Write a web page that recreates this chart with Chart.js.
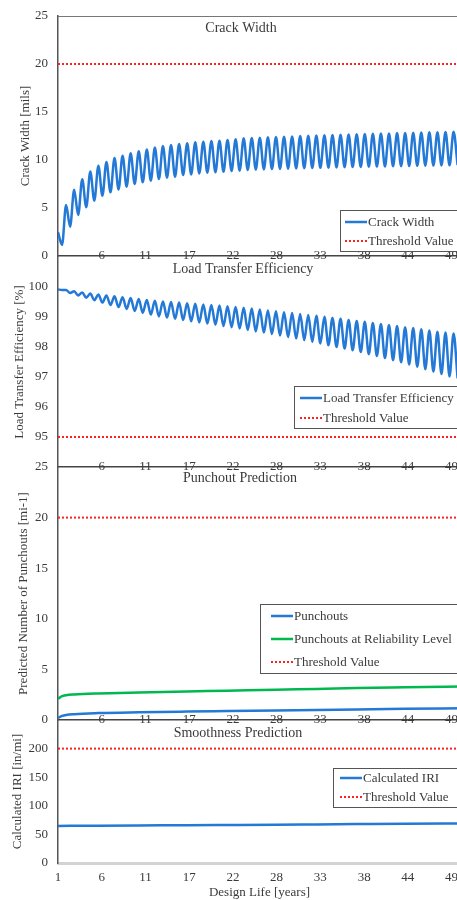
<!DOCTYPE html>
<html><head><meta charset="utf-8">
<script src="https://cdn.jsdelivr.net/npm/chart.js@4.4.1/dist/chart.umd.min.js"></script>
<style>
html,body{margin:0;padding:0;background:#fff;width:457px;height:900px;overflow:hidden;position:relative;}
canvas{position:absolute;left:0;}
</style></head><body>
<canvas id="c1" width="470" height="266" style="top:0px"></canvas>
<canvas id="c2" width="470" height="230" style="top:247px"></canvas>
<canvas id="c3" width="470" height="273" style="top:457px"></canvas>
<canvas id="c4" width="470" height="190" style="top:710px"></canvas>
<script>
// ---------------- DATA ----------------
const designStart = 1;
const designEnd = 50.92;
const tickLabels = ['1','6','11','17','22','28','33','38','44','49'];
const tickYears  = [1, 6.42, 11.83, 17.25, 22.67, 28.08, 33.5, 38.92, 44.33, 49.75];

// crack width [mils], half-year readings starting at year 1 (peak / trough alternating)
const crackWidth = [2.5,1.15, 5.3,3.05, 6.9,4.27, 8.0,5.07, 8.8,5.76, 9.4,6.28, 9.8,6.63, 10.2,6.94,
  10.45,7.22, 10.7,7.5, 10.9,7.67, 11.1,7.85, 11.3,8.02, 11.45,8.16, 11.56,8.26, 11.67,8.44,
  11.74,8.5, 11.84,8.6, 11.91,8.68, 11.98,8.72, 12.0,8.78, 12.08,8.85, 12.15,8.89, 12.26,8.96,
  12.3,9.0, 12.33,9.02, 12.36,9.05, 12.4,9.07, 12.43,9.1, 12.46,9.12, 12.5,9.14, 12.52,9.16,
  12.55,9.18, 12.58,9.2, 12.6,9.22, 12.63,9.24, 12.65,9.26, 12.68,9.28, 12.7,9.3, 12.73,9.31,
  12.75,9.33, 12.77,9.35, 12.8,9.36, 12.82,9.38, 12.84,9.39, 12.86,9.41, 12.88,9.42, 12.9,9.44,
  12.92,9.45, 12.94,9.46];
const crackLimit = 20;

// load transfer efficiency [%], half-year readings starting at year 1
const lte = [99.92,99.9, 99.9,99.8, 99.86,99.72, 99.82,99.64, 99.78,99.56, 99.75,99.48, 99.72,99.4,
  99.69,99.33, 99.66,99.27, 99.63,99.2, 99.6,99.14, 99.57,99.08, 99.54,99.02, 99.52,98.98,
  99.5,98.94, 99.48,98.9, 99.46,98.86, 99.44,98.82, 99.42,98.78, 99.4,98.74, 99.38,98.7,
  99.36,98.66, 99.33,98.62, 99.31,98.57, 99.28,98.52, 99.25,98.48, 99.22,98.43, 99.19,98.38,
  99.16,98.33, 99.13,98.28, 99.1,98.23, 99.07,98.17, 99.04,98.12, 99.01,98.06, 98.97,98.0,
  98.94,97.95, 98.9,97.89, 98.87,97.83, 98.84,97.76, 98.8,97.7, 98.77,97.63, 98.73,97.56,
  98.7,97.49, 98.66,97.42, 98.63,97.34, 98.59,97.26, 98.55,97.18, 98.51,97.1, 98.48,97.02,
  98.45,96.95];
const lteLimit = 95;

// punchouts [mi-1]
const punchYears  = [1, 1.5, 2, 3, 6, 11, 17, 22, 28, 33, 38, 44, 50.92];
const punchouts   = [0.2, 0.4, 0.5, 0.58, 0.68, 0.76, 0.83, 0.88, 0.94, 0.99, 1.04, 1.1, 1.16];
const punchRel    = [2.1, 2.35, 2.45, 2.52, 2.62, 2.72, 2.82, 2.9, 3.0, 3.07, 3.15, 3.23, 3.32];
const punchLimit = 20;

// IRI [in/mi]
const iriYears = [1, 6, 11, 17, 22, 28, 33, 38, 44, 50.92];
const iri      = [64.8, 65.3, 65.7, 66.1, 66.5, 67.0, 67.5, 68.0, 68.6, 69.2];
const iriLimit = 200;

const crackTicks = [0,5,10,15,20,25];
const lteTicks   = [94,95,96,97,98,99,100,101];
const punchTicks = [0,5,10,15,20,25];
const iriTicks   = [0,50,100,150,200,250];

// ---------------- STYLE ----------------
const FAM = "'Liberation Serif','Times New Roman',serif";
const TXT = '#3a3a3a';
const BLUE = '#2479D6';
const GREEN = '#00B84F';
const RED = '#FF2020';

const halfYearSeries = vals => vals.map((v,i) => ({x: designStart + i*0.5, y: v}));
const pairs = (xs, ys) => xs.map((x,i) => ({x, y: ys[i]}));
const limitLine = v => [{x: designStart, y: v}, {x: designEnd, y: v}];

const mainLine = (label, data, color) => ({label, data, borderColor: color, borderWidth: 2.5,
  pointRadius: 0, cubicInterpolationMode: 'monotone', fill: false});
const thresh = v => ({label: 'Threshold Value', data: limitLine(v), borderColor: RED, borderWidth: 2,
  borderDash: [2,2], pointRadius: 0, fill: false});

const decor = {
  id: 'decor',
  afterDraw(chart, args, o) {
    const ctx = chart.ctx, ca = chart.chartArea, off = o.top;
    ctx.save();
    if (o.topBorder) {
      ctx.strokeStyle = '#777'; ctx.lineWidth = 1;
      ctx.beginPath(); ctx.moveTo(ca.left, ca.top + 0.5); ctx.lineTo(ca.right, ca.top + 0.5); ctx.stroke();
    }
    ctx.fillStyle = TXT;
    ctx.font = "14px " + FAM;
    ctx.textAlign = 'center'; ctx.textBaseline = 'middle';
    ctx.fillText(o.title, o.tx, o.ty - off);
    // legend
    const L = o.legend;
    ctx.fillStyle = '#fff';
    ctx.fillRect(L.x, L.y - off, L.w, L.h);
    ctx.strokeStyle = '#555'; ctx.lineWidth = 1;
    ctx.strokeRect(L.x + 0.5, L.y - off + 0.5, L.w, L.h);
    ctx.font = "13px " + FAM; ctx.textAlign = 'left';
    chart.data.datasets.forEach((ds, i) => {
      const y = L.y - off + L.rows[i];
      ctx.strokeStyle = ds.borderColor; ctx.lineWidth = ds.borderWidth;
      ctx.setLineDash(ds.borderDash || []);
      ctx.beginPath(); ctx.moveTo(L.x + L.sx, y); ctx.lineTo(L.x + L.sx + 22, y); ctx.stroke();
      ctx.setLineDash([]);
      ctx.fillStyle = TXT;
      ctx.fillText(ds.label, L.x + L.sx + 23, y + 0.5);
    });
    ctx.restore();
  }
};

function xScale(bottom) {
  return {
    type: 'linear', min: designStart, max: designEnd,
    afterBuildTicks: s => { s.ticks = tickYears.map(v => ({value: v})); },
    afterFit: s => { s.height = bottom ? 37 : 10; s._computeLabelArea = () => undefined; },
    grid: {display: false, drawTicks: false},
    border: {display: true, color: bottom ? '#d3d3d3' : '#444', width: bottom ? 3 : 1.5},
    ticks: {autoSkip: false, maxRotation: 0, padding: bottom ? 7 : -8,
      font: {family: FAM, size: 13}, color: TXT,
      callback: (v, i) => (i === 0 && !bottom) ? '' : tickLabels[i]},
    title: bottom ? {display: true, text: 'Design Life [years]', font: {family: FAM, size: 13},
      color: TXT, padding: {top: 0, bottom: 0}} : {display: false}
  };
}
function yScale(ticks, hidden, title, tpad) {
  return {
    type: 'linear', min: ticks[0], max: ticks[ticks.length - 1],
    afterBuildTicks: s => { s.ticks = ticks.map(v => ({value: v})); },
    afterFit: s => { s.width = 58; s.paddingTop = 0; s.paddingBottom = 0; },
    grid: {display: false, drawTicks: false},
    border: {display: true, color: '#555', width: 1.5},
    ticks: {padding: 10, font: {family: FAM, size: 13}, color: TXT,
      callback: v => hidden.includes(v) ? '' : String(v)},
    title: {display: true, text: title, font: {family: FAM, size: 13}, color: TXT,
      padding: {top: tpad, bottom: 0}}
  };
}
function make(id, top, padTop, datasets, x, y, deco) {
  deco.top = top;
  return new Chart(document.getElementById(id), {
    type: 'line',
    data: {datasets},
    options: {
      responsive: false, animation: false, events: [],
      layout: {padding: {top: padTop, left: 0, right: 9, bottom: 0}},
      scales: {x, y},
      plugins: {legend: {display: false}, tooltip: {enabled: false}, decor: deco}
    },
    plugins: [decor]
  });
}

make('c1', 0, 16,
  [mainLine('Crack Width', halfYearSeries(crackWidth), BLUE), thresh(crackLimit)],
  xScale(false), yScale(crackTicks, [], 'Crack Width [mils]', 18),
  {title: 'Crack Width', tx: 241, ty: 28, topBorder: true,
   legend: {x: 340, y: 210, w: 140, h: 41, sx: 5, rows: [12, 31]}});

make('c2', 247, 10,
  [mainLine('Load Transfer Efficiency', halfYearSeries(lte), BLUE), thresh(lteLimit)],
  xScale(false), yScale(lteTicks, [94, 101], 'Load Transfer Efficiency [%]', 12),
  {title: 'Load Transfer Efficiency', tx: 243, ty: 269,
   legend: {x: 294, y: 386, w: 180, h: 42, sx: 6, rows: [12, 32]}});

make('c3', 457, 10,
  [mainLine('Punchouts', pairs(punchYears, punchouts), BLUE),
   mainLine('Punchouts at Reliability Level', pairs(punchYears, punchRel), GREEN),
   thresh(punchLimit)],
  xScale(false), yScale(punchTicks, [], 'Predicted Number of Punchouts [mi-1]', 16),
  {title: 'Punchout Prediction', tx: 240, ty: 478,
   legend: {x: 260, y: 604, w: 220, h: 69, sx: 11, rows: [12, 35, 58]}});

make('c4', 710, 10,
  [mainLine('Calculated IRI', pairs(iriYears, iri), BLUE), thresh(iriLimit)],
  xScale(true), yScale(iriTicks, [250], 'Calculated IRI [in/mi]', 10),
  {title: 'Smoothness Prediction', tx: 238, ty: 733,
   legend: {x: 333, y: 768, w: 140, h: 39, sx: 7, rows: [10, 29]}});
</script>
</body></html>
